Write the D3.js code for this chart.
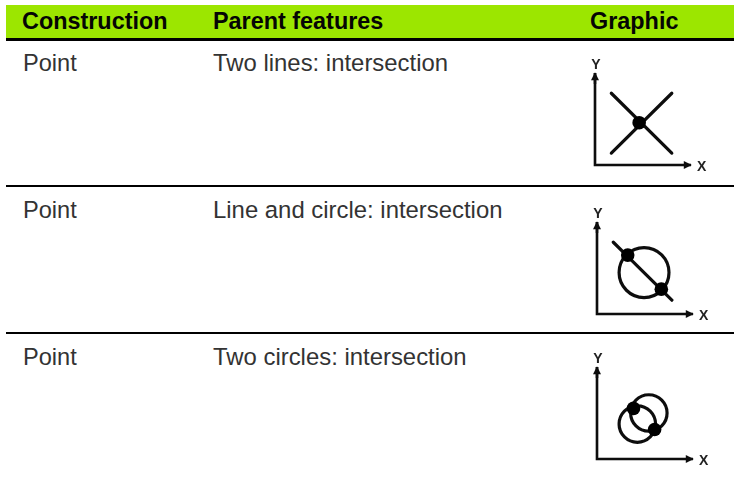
<!DOCTYPE html>
<html>
<head>
<meta charset="utf-8">
<script src="https://cdn.jsdelivr.net/npm/d3@7"></script>
<style>
  html, body { margin: 0; padding: 0; background: #fff; }
  svg { display: block; }
  text { font-family: "Liberation Sans", Arial, sans-serif; }
</style>
</head>
<body>
<div id="chart"></div>
<script>
// table content
const columns = ['Construction', 'Parent features', 'Graphic'];
const constructions = ['Point', 'Point', 'Point'];
const parentFeatures = ['Two lines: intersection', 'Line and circle: intersection', 'Two circles: intersection'];

// graphic contents, in axis units (0-100 along each axis)
const lineSets = [
  [[[17, 13], [80, 78]], [[17, 78], [80, 13]]],
  [[[17, 78], [78, 15]]],
  []
];
const circleSets = [
  [],
  [[49, 45, 26]],
  [[42, 38, 19], [54, 50, 19]]
];
const pointSets = [
  [[46, 46]],
  [[32, 64], [67, 27]],
  [[38, 55], [60, 32]]
];

const width = 734, height = 477;
const svg = d3.select('#chart').append('svg')
  .attr('width', width)
  .attr('height', height);

const defs = svg.append('defs');
defs.append('filter')
  .attr('id', 'soft')
  .append('feGaussianBlur')
  .attr('stdDeviation', 0.5);

defs.append('marker')
  .attr('id', 'arrow')
  .attr('viewBox', '0 0 10 10')
  .attr('refX', 9).attr('refY', 5)
  .attr('markerWidth', 11).attr('markerHeight', 8)
  .attr('markerUnits', 'userSpaceOnUse')
  .attr('orient', 'auto')
  .append('path')
  .attr('d', 'M0,0L10,5L0,10Z')
  .attr('fill', '#111');

// header
const columnX = d3.scaleOrdinal().domain(columns).range([22, 213, 590]);
svg.append('rect').attr('x', 6).attr('y', 5).attr('width', 728).attr('height', 33).attr('fill', '#9ce600');
svg.selectAll('.head').data(columns).enter().append('text')
  .attr('class', 'head')
  .attr('x', d => columnX(d))
  .attr('y', 28.5)
  .attr('fill', '#050505')
  .style('font-size', '23.4px')
  .style('font-weight', 'bold')
  .text(d => d);

// rows
const rowY = d3.scaleLinear().domain([0, 1, 2]).range([38, 185, 332]);
svg.selectAll('.rule').data([0, 1, 2]).enter().append('rect')
  .attr('class', 'rule')
  .attr('x', 6).attr('width', 728)
  .attr('y', d => rowY(d))
  .attr('height', d => d === 0 ? 3 : 2)
  .attr('fill', '#000');

svg.selectAll('.cons').data(constructions).enter().append('text')
  .attr('class', 'cons')
  .attr('x', columnX(columns[0]) + 1)
  .attr('y', (d, i) => rowY(i) + 33)
  .attr('fill', '#333')
  .style('font-size', '23.6px')
  .text(d => d);

svg.selectAll('.parent').data(parentFeatures).enter().append('text')
  .attr('class', 'parent')
  .attr('x', columnX(columns[1]))
  .attr('y', (d, i) => rowY(i) + 33)
  .attr('fill', '#333')
  .style('font-size', '23.9px')
  .text(d => d);

// axis units -> pixels inside a graphic
const x = d3.scaleLinear().domain([0, 100]).range([0, 96]);
const y = d3.scaleLinear().domain([0, 100]).range([0, -92]);
const origins = [[595, 165], [597, 314], [597, 459]];

const graphics = svg.selectAll('.graphic').data(origins).enter().append('g')
  .attr('class', 'graphic')
  .attr('filter', 'url(#soft)')
  .attr('transform', d => `translate(${d[0]},${d[1]})`);

graphics.append('path')
  .attr('d', d3.line()([[x(0), y(100)], [x(0), y(0)], [x(100), y(0)]]))
  .attr('fill', 'none')
  .attr('stroke', '#111')
  .attr('stroke-width', 2.6)
  .attr('marker-end', 'url(#arrow)');

graphics.append('path')
  .attr('d', d3.line()([[x(0), y(88)], [x(0), y(100)]]))
  .attr('stroke', '#111')
  .attr('stroke-width', 2.6)
  .attr('marker-end', 'url(#arrow)');

graphics.append('text')
  .attr('x', x(0) + 1)
  .attr('y', y(100) - 4)
  .attr('text-anchor', 'middle')
  .attr('fill', '#222')
  .style('font-size', '14px')
  .style('font-weight', 'bold')
  .text('Y');

graphics.append('text')
  .attr('x', x(100) + 6)
  .attr('y', y(0) + 6)
  .attr('fill', '#222')
  .style('font-size', '14px')
  .style('font-weight', 'bold')
  .text('X');

graphics.each(function(d, i) {
  const g = d3.select(this);
  g.selectAll('.seg').data(lineSets[i]).enter().append('line')
    .attr('class', 'seg')
    .attr('x1', s => x(s[0][0])).attr('y1', s => y(s[0][1]))
    .attr('x2', s => x(s[1][0])).attr('y2', s => y(s[1][1]))
    .attr('stroke', '#111').attr('stroke-width', 3.2).attr('stroke-linecap', 'round');
  g.selectAll('.ring').data(circleSets[i]).enter().append('circle')
    .attr('class', 'ring')
    .attr('cx', c => x(c[0])).attr('cy', c => y(c[1]))
    .attr('r', c => x(c[2]))
    .attr('fill', 'none').attr('stroke', '#111').attr('stroke-width', 3.2);
  g.selectAll('.dot').data(pointSets[i]).enter().append('circle')
    .attr('class', 'dot')
    .attr('cx', p => x(p[0])).attr('cy', p => y(p[1]))
    .attr('r', 6.8)
    .attr('fill', '#000');
});
</script>
</body>
</html>
